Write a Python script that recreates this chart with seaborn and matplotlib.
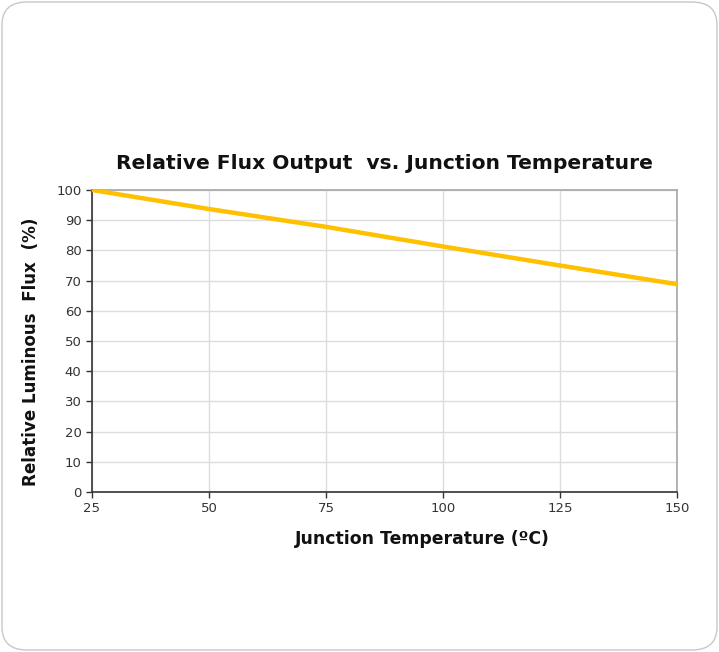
import matplotlib
matplotlib.use("Agg")
import matplotlib.pyplot as plt
import seaborn as sns
import pandas as pd
from matplotlib.patches import FancyBboxPatch

temperature = [25, 50, 75, 100, 125, 150]
relative_flux = [100, 93.7, 87.8, 81.3, 75.0, 68.8]
x_ticks = [25, 50, 75, 100, 125, 150]
y_ticks = [0, 10, 20, 30, 40, 50, 60, 70, 80, 90, 100]

df = pd.DataFrame({"Temperature": temperature, "Flux": relative_flux})

sns.set_theme(style="white")
plt.rcParams['font.family'] = ['DejaVu Sans']

fig = plt.figure(figsize=(7.19, 6.52), dpi=100)
fig.patch.set_facecolor("white")
card = FancyBboxPatch((2/719, 2/652), 1 - 4/719, 1 - 4/652,
                      boxstyle="round,pad=0,rounding_size=0.035",
                      transform=fig.transFigure, facecolor="white",
                      edgecolor="#c8c8c8", linewidth=1.0, zorder=-5)
fig.patches.append(card)

ax = fig.add_axes([92/719, 1 - 492/652, (677 - 92)/719, (492 - 190)/652])
ax.set_zorder(5)
ax.set_facecolor("none")
sns.lineplot(data=df, x="Temperature", y="Flux", ax=ax, color="#FFC000",
             linewidth=3.2, zorder=3)

ax.set_xlim(25, 150)
ax.set_ylim(0, 100)
ax.set_xticks(x_ticks)
ax.set_yticks(y_ticks)
ax.grid(True, color="#dcdcdc", linewidth=1.0)
ax.set_axisbelow(True)
for s in ["top", "right"]:
    ax.spines[s].set_color("#a6a6a6")
    ax.spines[s].set_linewidth(1.2)
for s in ["left", "bottom"]:
    ax.spines[s].set_color("#333333")
    ax.spines[s].set_linewidth(1.2)
ax.tick_params(axis="both", direction="out", length=4, width=1, colors="#333333",
               labelsize=9.5, labelcolor="#333333", bottom=True, left=True)

ax.set_xlabel("Junction Temperature (ºC)", fontsize=12.4, fontweight="bold",
              color="#111111")
ax.set_ylabel("Relative Luminous  Flux  (%)", fontsize=12.1, fontweight="bold",
              color="#111111")
ax.xaxis.set_label_coords((422 - 92) / 585, (492 - 530) / 302)
ax.yaxis.set_label_coords((40 - 92) / 585, (492 - 352) / 302)
ax.set_title("Relative Flux Output  vs. Junction Temperature", fontsize=14.6,
             fontweight="bold", color="#111111", pad=15)

fig.savefig("out.png", dpi=100, facecolor="white")
